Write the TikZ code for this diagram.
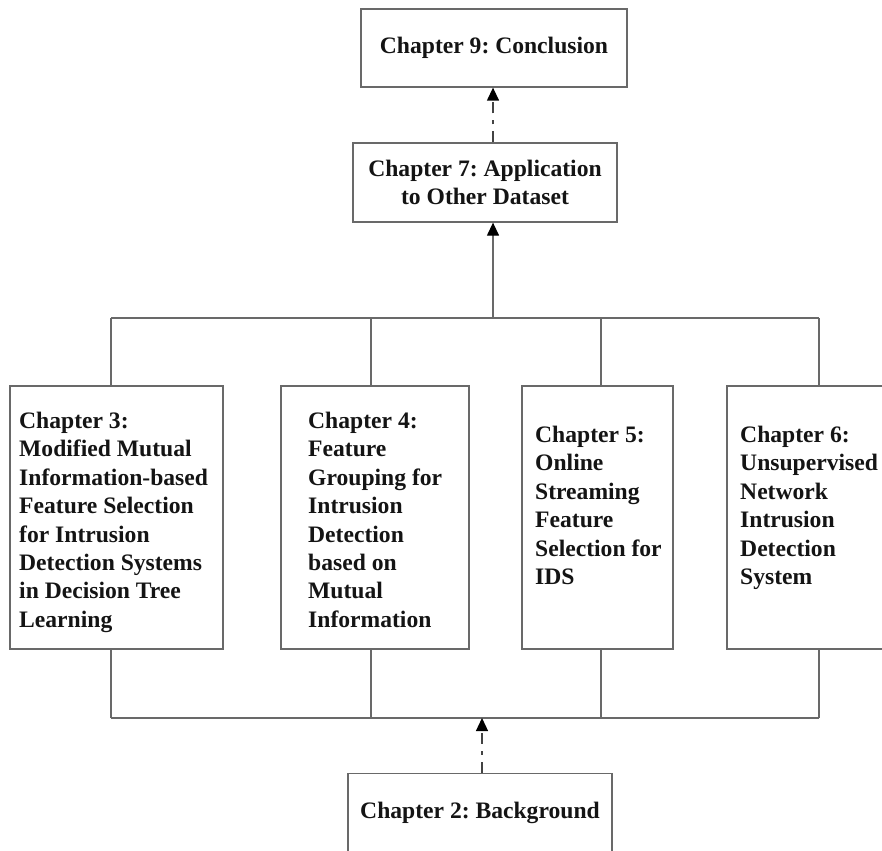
\documentclass[tikz,border=0pt]{standalone}
\usepackage{fontspec}
\setmainfont{Liberation Serif}
\frenchspacing
\usetikzlibrary{arrows.meta}
\definecolor{frame}{RGB}{105,105,105}
\definecolor{ink}{RGB}{20,20,20}
\begin{document}
\begin{tikzpicture}[x=1pt,y=-1pt,
  chapbox/.style={draw=frame, line width=1.3pt, fill=white, inner sep=0pt,
    font=\fontsize{23.6}{28.4}\selectfont\bfseries, text=ink},
  chaptext/.style={inner sep=0pt, align=left, anchor=north west,
    font=\fontsize{23.6}{28.4}\selectfont\bfseries, text=ink},
  conn/.style={draw=frame, line width=1.3pt},
  uparrow/.style={-{Triangle[width=12pt,length=13pt,color=black]}},
  dashdot/.style={draw=ink!80, line width=1.3pt,
    dash pattern=on 11pt off 7pt on 4pt off 7pt}]
\useasboundingbox (0,0) rectangle (882,850);

% top row
\node[chapbox, minimum width=266pt, minimum height=78pt] (c9) at (494,48) {Chapter 9: Conclusion};
\node[chapbox, minimum width=264pt, minimum height=79pt, align=center] (c7) at (485,182.5)
  {Chapter 7: Application\\to Other Dataset};

% the four core chapters
\node[chapbox, minimum width=213pt, minimum height=263pt] (c3) at (116.5,517.5) {};
\node[chapbox, minimum width=188pt, minimum height=263pt] (c4) at (375,517.5) {};
\node[chapbox, minimum width=151pt, minimum height=263pt] (c5) at (597.5,517.5) {};
\node[chapbox, minimum width=185pt, minimum height=263pt] (c6) at (819.5,517.5) {};

\node[chaptext] (t3) at (19,412) {Chapter 3:\\Modified Mutual\\Information-based\\Feature Selection\\for Intrusion\\Detection Systems\\in Decision Tree\\Learning};
\node[chaptext] (t4) at (308,412) {Chapter 4:\\Feature\\Grouping for\\Intrusion\\Detection\\based on\\Mutual\\Information};
\node[chaptext] (t5) at (535,426) {Chapter 5:\\Online\\Streaming\\Feature\\Selection for\\IDS};
\node[chaptext] (t6) at (740,426) {Chapter 6:\\Unsupervised\\Network\\Intrusion\\Detection\\System};

% background chapter
\node[chapbox, minimum width=264pt, minimum height=79pt] (c2) at (480,813) {Chapter 2: Background};

% upper bus
\coordinate (ta) at (111,318);
\coordinate (tb) at (371,318);
\coordinate (tc) at (601,318);
\coordinate (td) at (819,318);
\coordinate (tm) at (493,318);
\draw[conn] (ta) -- (td);
\draw[conn] (ta) -- (ta |- c3.north);
\draw[conn] (tb) -- (tb |- c4.north);
\draw[conn] (tc) -- (tc |- c5.north);
\draw[conn] (td) -- (td |- c6.north);
\draw[conn, uparrow] (tm) -- (tm |- c7.south);
\draw[dashdot, uparrow] (tm |- c7.north) -- (tm |- c9.south);

% lower bus
\coordinate (ba) at (111,718);
\coordinate (bb) at (371,718);
\coordinate (bc) at (601,718);
\coordinate (bd) at (819,718);
\coordinate (bm) at (482,718);
\draw[conn] (ba) -- (bd);
\draw[conn] (ba |- c3.south) -- (ba);
\draw[conn] (bb |- c4.south) -- (bb);
\draw[conn] (bc |- c5.south) -- (bc);
\draw[conn] (bd |- c6.south) -- (bd);
\draw[dashdot, uparrow] (bm |- c2.north) -- (bm);
\end{tikzpicture}
\end{document}
